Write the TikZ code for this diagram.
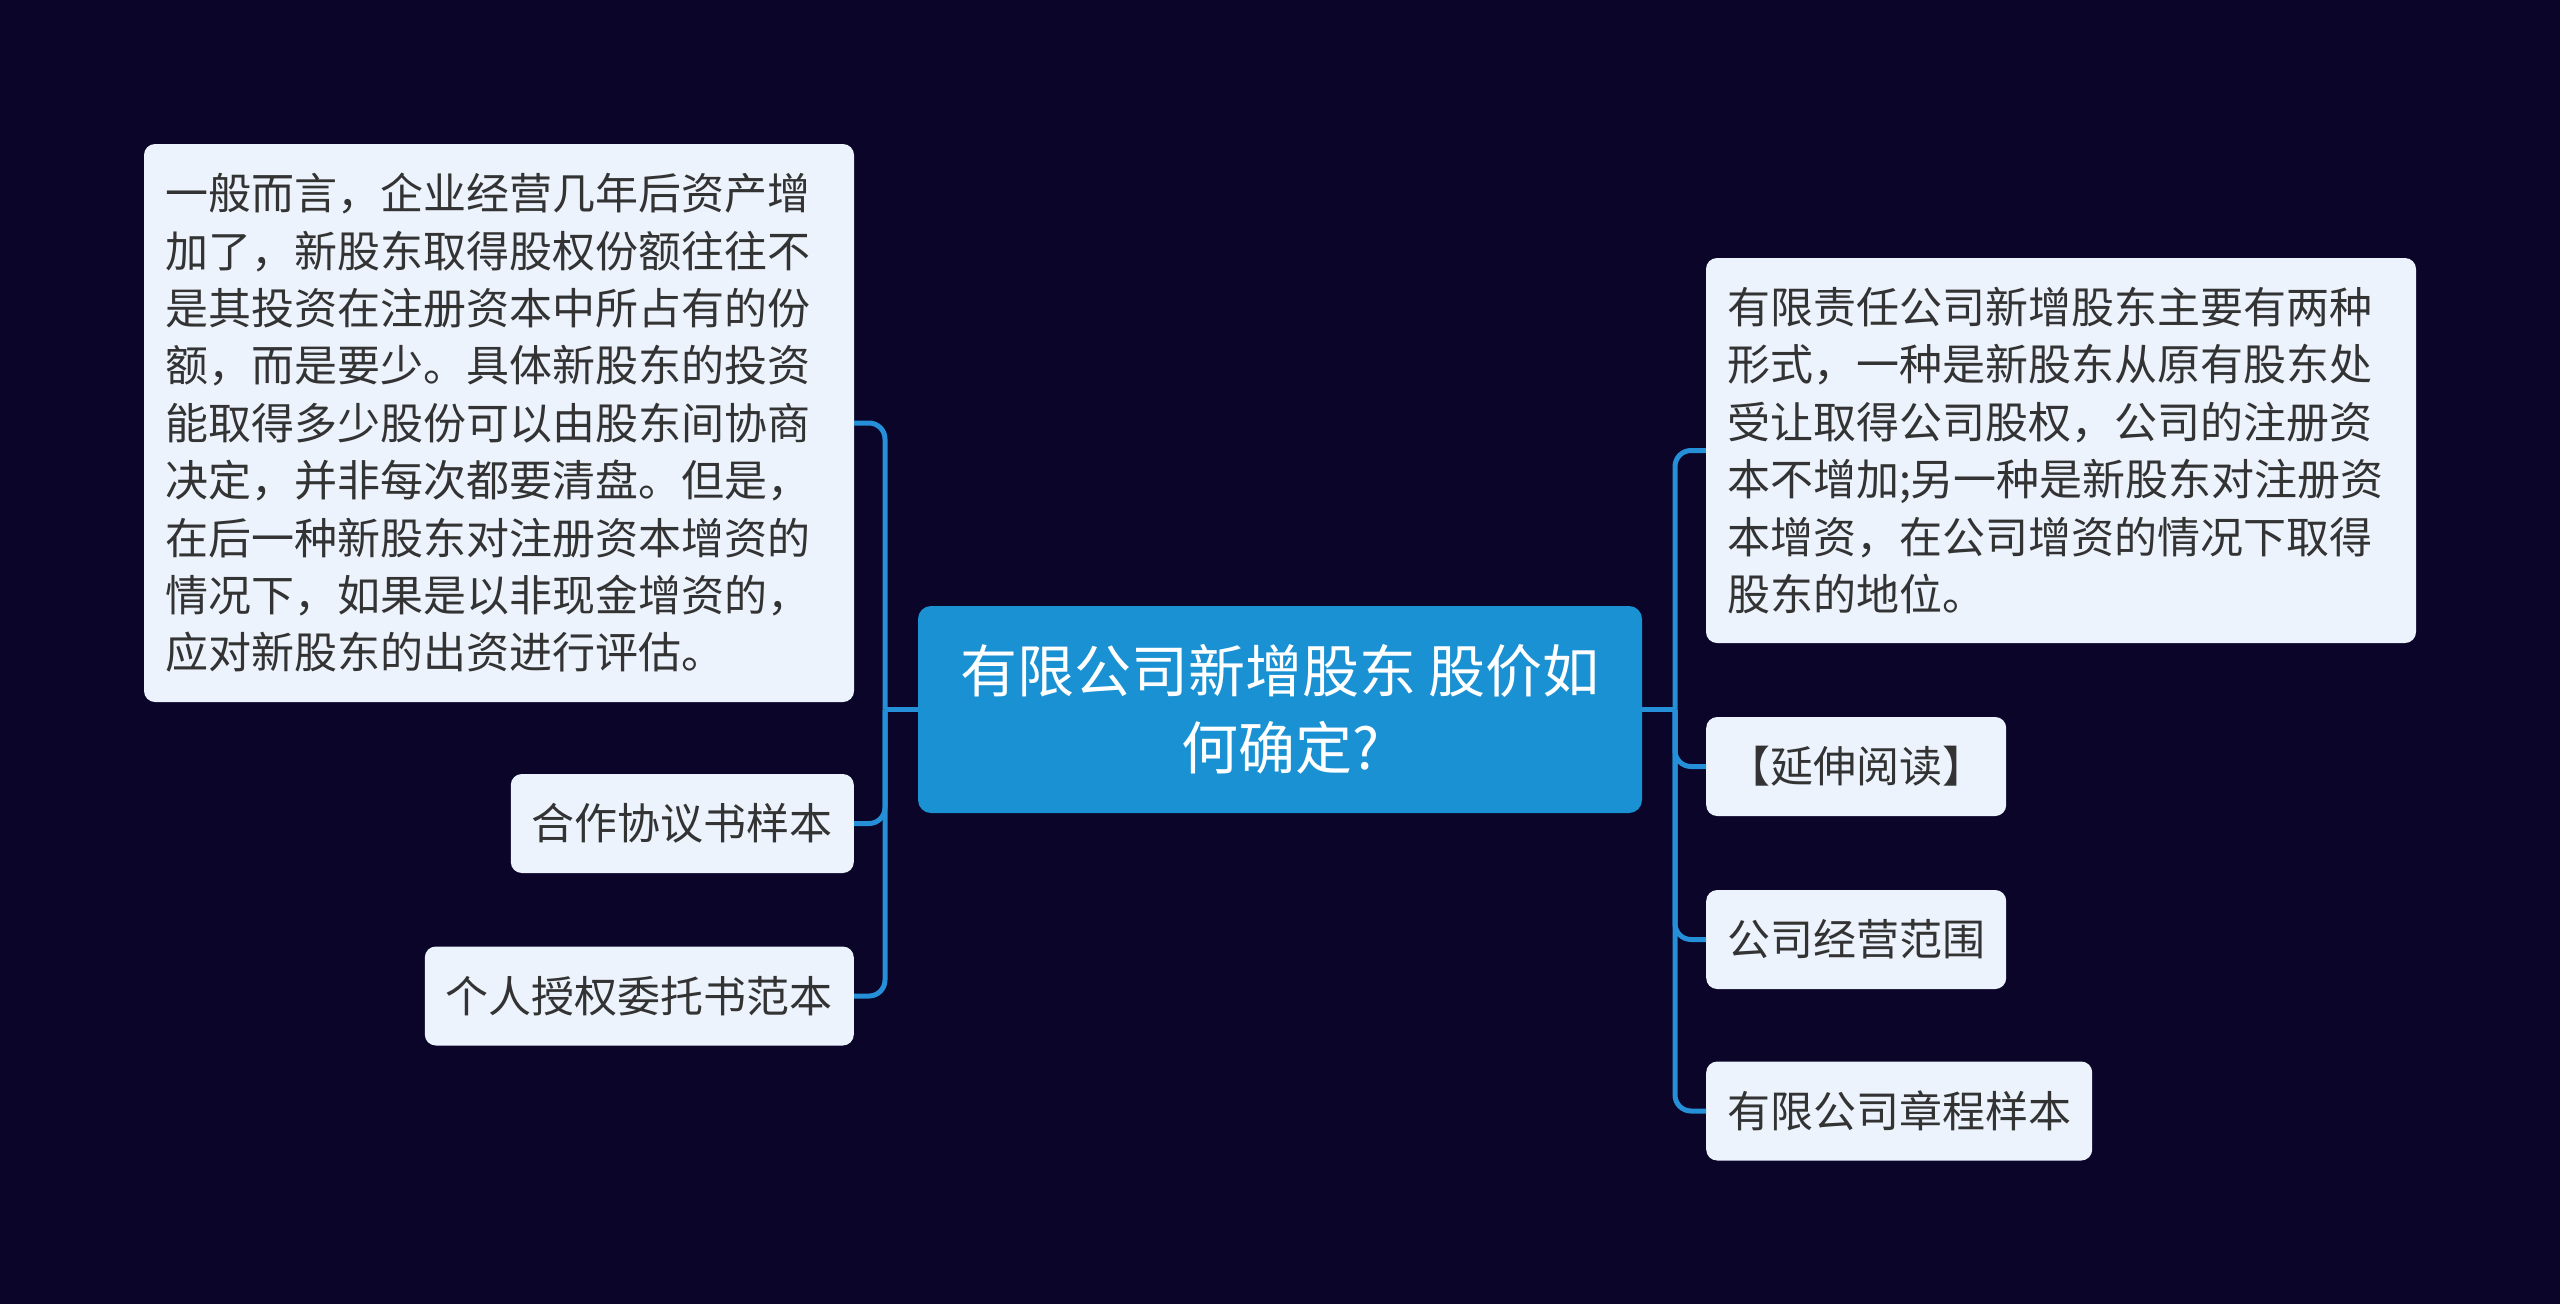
\documentclass[tikz,border=0pt]{standalone}
\usepackage{fontspec}
\setmainfont{Noto Sans CJK SC}
\definecolor{bgc}{HTML}{0A0529}
\definecolor{leaffill}{HTML}{EDF3FD}
\definecolor{leaftext}{HTML}{333333}
\definecolor{rootfill}{HTML}{1A91D3}
\definecolor{linec}{HTML}{2590D8}
\begin{document}
\begin{tikzpicture}[x=1pt,y=-1pt,
  leaf/.style={fill=leaffill, rounded corners=11pt, text=leaftext,
    font=\fontsize{43pt}{57.4pt}\selectfont, inner xsep=21pt, inner ysep=0pt,
    minimum height=99pt, align=left},
  bigleaf/.style={leaf, text width=668pt},
  rootbox/.style={fill=rootfill, rounded corners=13pt, text=white,
    font=\fontsize{57pt}{77pt}\selectfont, align=center,
    minimum width=724pt, minimum height=207pt, inner sep=0pt},
  conn/.style={draw=linec, line width=5pt, rounded corners=16pt}
]
\fill[bgc] (0,0) rectangle (2560,1304);
\useasboundingbox (0,0) rectangle (2560,1304);

\node[rootbox] (root) at (1280,709.5) {有限公司新增股东 股价如\\何确定?};

\node[bigleaf, minimum height=558pt] (l1) at (499,423) {一般而言，企业经营几年后资产增\\加了，新股东取得股权份额往往不\\是其投资在注册资本中所占有的份\\额，而是要少。具体新股东的投资\\能取得多少股份可以由股东间协商\\决定，并非每次都要清盘。但是，\\在后一种新股东对注册资本增资的\\情况下，如果是以非现金增资的，\\应对新股东的出资进行评估。};
\node[leaf, anchor=east] (l2) at (854,823.5) {合作协议书样本};
\node[leaf, anchor=east] (l3) at (854,996) {个人授权委托书范本};

\node[bigleaf, minimum height=385pt] (r1) at (2061,450.5) {有限责任公司新增股东主要有两种\\形式，一种是新股东从原有股东处\\受让取得公司股权，公司的注册资\\本不增加;另一种是新股东对注册资\\本增资，在公司增资的情况下取得\\股东的地位。};
\node[leaf, anchor=west] (r2) at (1706,766.5) {【延伸阅读】};
\node[leaf, anchor=west] (r3) at (1706,939.5) {公司经营范围};
\node[leaf, anchor=west] (r4) at (1706,1111) {有限公司章程样本};

\coordinate (lj) at (885,709.5);
\coordinate (rj) at (1675,709.5);

\draw[conn] (root.west) -- (lj);
\draw[conn] (root.east) -- (rj);
\foreach \n in {l1,l2,l3} \draw[conn] (lj) |- (\n.east);
\foreach \n in {r1,r2,r3,r4} \draw[conn] (rj) |- (\n.west);
\end{tikzpicture}
\end{document}
